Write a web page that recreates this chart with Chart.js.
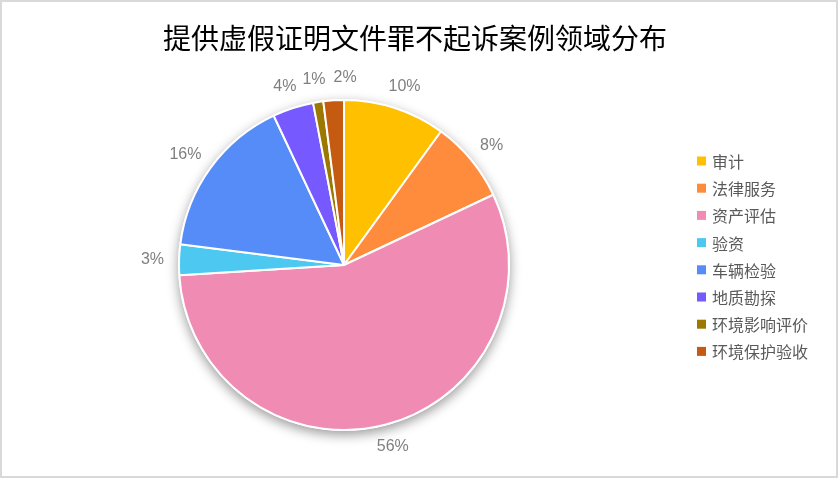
<!DOCTYPE html>
<html>
<head>
<meta charset="utf-8">
<script src="https://cdn.jsdelivr.net/npm/chart.js@4"></script>
<style>
  html, body { margin: 0; padding: 0; background: #fff; }
  #frame {
    position: absolute; left: 0; top: 0;
    width: 838px; height: 478px;
    box-sizing: border-box;
    border: 2px solid #d9d9d9;
    background: #fff;
  }
  #c { display: block; }
</style>
</head>
<body>
<div id="frame"><canvas id="c" width="834" height="474"></canvas></div>
<script>
// Fields of non-prosecuted "false certification document" cases (share, %)
const titleText = '提供虚假证明文件罪不起诉案例领域分布';
const categories = ['审计', '法律服务', '资产评估', '验资', '车辆检验', '地质勘探', '环境影响评价', '环境保护验收'];
const shares = [10, 8, 56, 3, 16, 4, 1, 2];
const sliceColors = ['#FFC000', '#FF8B3D', '#F08CB4', '#4DC9F1', '#568CF8', '#7659FF', '#9C7800', '#C55A11'];

const LABEL_FONT = '16px "Liberation Sans", Arial, sans-serif';
const LEGEND_FONT = '16px "Noto Sans CJK SC", sans-serif';
const TITLE_FONT = '28px "Noto Sans CJK SC", sans-serif';

// Title centred over the whole canvas width
const canvasTitle = {
  id: 'canvasTitle',
  afterDraw(chart) {
    const ctx = chart.ctx;
    ctx.save();
    ctx.font = TITLE_FONT;
    ctx.fillStyle = '#000000';
    ctx.textAlign = 'center';
    ctx.textBaseline = 'middle';
    ctx.fillText(titleText, 413, 36);
    ctx.restore();
  }
};

// Soft drop shadow behind the whole pie
const pieShadow = {
  id: 'pieShadow',
  beforeDatasetsDraw(chart) {
    const arc = chart.getDatasetMeta(0).data[0];
    if (!arc) return;
    const { x, y, outerRadius } = arc.getProps(['x', 'y', 'outerRadius'], true);
    const ctx = chart.ctx;
    ctx.save();
    ctx.shadowColor = 'rgba(0,0,0,0.4)';
    ctx.shadowBlur = 12;
    ctx.shadowOffsetY = 4;
    ctx.fillStyle = '#ffffff';
    ctx.beginPath();
    ctx.arc(x, y, outerRadius + 1, 0, Math.PI * 2);
    ctx.fill();
    ctx.restore();
  }
};

// Percentage labels just outside each slice
const outsideLabels = {
  id: 'outsideLabels',
  afterDatasetsDraw(chart) {
    const ctx = chart.ctx;
    const meta = chart.getDatasetMeta(0);
    const values = chart.data.datasets[0].data;
    ctx.save();
    ctx.font = LABEL_FONT;
    ctx.fillStyle = '#7f7f7f';
    ctx.textAlign = 'center';
    ctx.textBaseline = 'middle';
    const h = 16;
    let prevRight = null;
    meta.data.forEach((arc, i) => {
      const p = arc.getProps(['x', 'y', 'startAngle', 'endAngle', 'outerRadius'], true);
      const mid = (p.startAngle + p.endAngle) / 2;
      const r = p.outerRadius + 15;
      const ax = p.x + Math.cos(mid) * r;
      const ay = p.y + Math.sin(mid) * r;
      const text = values[i] + '%';
      const w = ctx.measureText(text).width;
      let cx = ax + Math.cos(mid) * w / 2;
      const cy = ay + Math.sin(mid) * h / 2;
      // keep neighbouring labels near the top from overlapping
      if (i > 0 && cy < p.y && prevRight !== null && cx - w / 2 < prevRight + 6 && Math.sin(mid) < -0.9) {
        cx = prevRight + 8 + w / 2;
      }
      prevRight = cx + w / 2;
      ctx.fillText(text, cx, cy);
    });
    ctx.restore();
  }
};

// Legend column on the right
const sideLegend = {
  id: 'sideLegend',
  afterDraw(chart) {
    const ctx = chart.ctx;
    const labels = chart.data.labels;
    const colors = chart.data.datasets[0].backgroundColor;
    const x0 = 695, y0 = 159, step = 27.2, box = 9;
    ctx.save();
    ctx.font = LEGEND_FONT;
    ctx.textBaseline = 'middle';
    ctx.textAlign = 'left';
    labels.forEach((lab, i) => {
      const y = y0 + i * step;
      ctx.fillStyle = colors[i];
      ctx.fillRect(x0, y - box / 2, box, box);
      ctx.fillStyle = '#595959';
      ctx.fillText(lab, x0 + 15, y + 1);
    });
    ctx.restore();
  }
};

new Chart(document.getElementById('c'), {
  type: 'pie',
  data: {
    labels: categories,
    datasets: [{
      data: shares,
      backgroundColor: sliceColors,
      borderColor: '#ffffff',
      borderWidth: 2
    }]
  },
  options: {
    responsive: false,
    animation: false,
    devicePixelRatio: 1,
    layout: { padding: { left: 176, right: 326, bottom: 45, top: 97 } },
    plugins: {
      legend: { display: false },
      tooltip: { enabled: false },
      title: { display: false }
    }
  },
  plugins: [pieShadow, outsideLabels, sideLegend, canvasTitle]
});
</script>
</body>
</html>
